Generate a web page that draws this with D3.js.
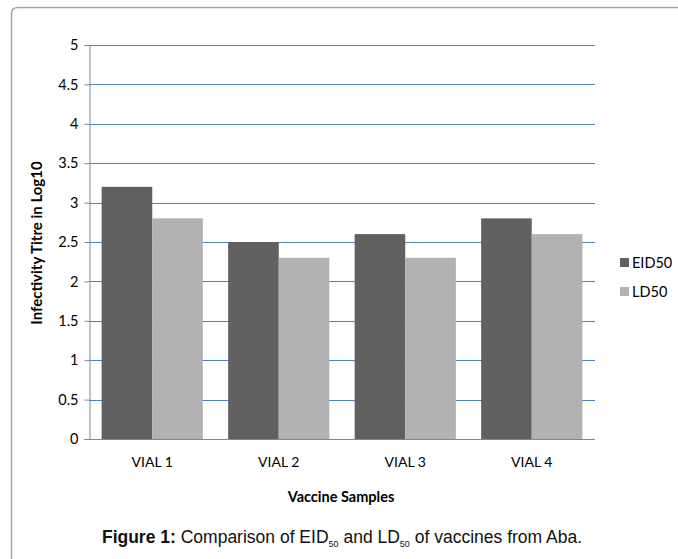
<!DOCTYPE html>
<html>
<head>
<meta charset="utf-8">
<script src="https://cdn.jsdelivr.net/npm/d3@7"></script>
<style>
  html, body { margin: 0; padding: 0; background: #fff; }
  svg { display: block; }
</style>
</head>
<body>
<svg id="chart" width="678" height="559"></svg>
<script>
// Infectivity titres (log10) per vaccine vial
const categories = ["VIAL 1", "VIAL 2", "VIAL 3", "VIAL 4"];
const seriesNames = ["EID50", "LD50"];
const eid50 = [3.2, 2.5, 2.6, 2.8];
const ld50 = [2.8, 2.3, 2.3, 2.6];
const yTicks = [0, 0.5, 1, 1.5, 2, 2.5, 3, 3.5, 4, 4.5, 5];

const colors = { EID50: "#606060", LD50: "#b2b2b2" };
const labelFont = "Lato, 'Open Sans', sans-serif";

const svg = d3.select("#chart");

// Figure frame with a rounded top-left corner
svg.append("path")
  .attr("d", "M11.5,559 L11.5,14 Q11.5,7.5 18,7.5 L678,7.5")
  .attr("fill", "none")
  .attr("stroke", "#a6a6a6")
  .attr("stroke-width", 1.5);

const plot = { left: 89, right: 595, top: 45, bottom: 439 };

const x = d3.scaleBand()
  .domain(categories)
  .range([plot.left, plot.right])
  .paddingInner(0)
  .paddingOuter(0);

const bar = x.bandwidth() / 2.5;
const xs = d3.scaleBand()
  .domain(seriesNames)
  .range([x.bandwidth() / 2 - bar, x.bandwidth() / 2 + bar]);

const y = d3.scaleLinear().domain([0, 5]).range([plot.bottom, plot.top]);

// Horizontal gridlines
svg.append("g")
  .selectAll("line")
  .data(yTicks.filter(d => d > 0))
  .join("line")
  .attr("x1", plot.left)
  .attr("x2", plot.right)
  .attr("y1", d => Math.round(y(d)) + 0.5)
  .attr("y2", d => Math.round(y(d)) + 0.5)
  .attr("stroke", "#4f81bd")
  .attr("stroke-width", 1);

// Bars
const rows = categories.map((c, i) => ({ cat: c, EID50: eid50[i], LD50: ld50[i] }));
const groups = svg.append("g")
  .selectAll("g")
  .data(rows)
  .join("g")
  .attr("transform", d => `translate(${x(d.cat)},0)`);

groups.selectAll("rect")
  .data(d => seriesNames.map(s => ({ s, v: d[s] })))
  .join("rect")
  .attr("x", d => xs(d.s))
  .attr("width", xs.bandwidth())
  .attr("y", d => y(d.v))
  .attr("height", d => y(0) - y(d.v))
  .attr("fill", d => colors[d.s]);

// Y axis
const yAxis = d3.axisLeft(y)
  .tickValues(yTicks)
  .tickSize(5)
  .tickPadding(6)
  .tickFormat(d3.format("~g"));
const yg = svg.append("g")
  .attr("transform", `translate(${plot.left + 0.5},0)`)
  .call(yAxis);
yg.select(".domain").attr("stroke", "#868686");
yg.selectAll(".tick line").attr("stroke", "#868686");
yg.selectAll(".tick text")
  .attr("font-family", labelFont)
  .attr("font-size", 14.5)
  .attr("fill", "#000");

// X axis
const xAxis = d3.axisBottom(x).tickSize(0).tickPadding(18);
const xg = svg.append("g")
  .attr("transform", `translate(0,${plot.bottom + 0.5})`)
  .call(xAxis);
xg.select(".domain")
  .attr("d", `M${plot.left - 5},0H${plot.right}`)
  .attr("stroke", "#868686");
xg.selectAll(".tick text")
  .attr("font-family", labelFont)
  .attr("font-size", 14)
  .attr("fill", "#000");

// Axis titles
svg.append("text")
  .attr("x", 341)
  .attr("y", 502)
  .attr("text-anchor", "middle")
  .attr("font-family", labelFont)
  .attr("font-weight", "bold")
  .attr("font-size", 14.5)
  .text("Vaccine Samples");

svg.append("text")
  .attr("transform", "translate(42,243) rotate(-90)")
  .attr("text-anchor", "middle")
  .attr("font-family", labelFont)
  .attr("font-weight", "bold")
  .attr("font-size", 15)
  .text("Infectivity Titre in Log10");

// Legend
const legend = svg.append("g")
  .selectAll("g")
  .data(seriesNames)
  .join("g")
  .attr("transform", (d, i) => `translate(620,${258 + i * 29})`);
legend.append("rect")
  .attr("width", 9)
  .attr("height", 9)
  .attr("fill", d => colors[d]);
legend.append("text")
  .attr("x", 12)
  .attr("y", 10)
  .attr("font-family", labelFont)
  .attr("font-size", 14.5)
  .text(d => d);

// Caption with subscripts
const cap = svg.append("text")
  .attr("x", 342)
  .attr("y", 543)
  .attr("text-anchor", "middle")
  .attr("font-family", "'Liberation Sans', Arial, sans-serif")
  .attr("font-size", 17.5)
  .attr("fill", "#111");
cap.append("tspan").attr("font-weight", "bold").text("Figure 1:");
cap.append("tspan").text(" Comparison of EID");
cap.append("tspan").attr("font-size", 9).attr("dy", 4).text("50");
cap.append("tspan").attr("dy", -4).text(" and LD");
cap.append("tspan").attr("font-size", 9).attr("dy", 4).text("50");
cap.append("tspan").attr("dy", -4).text(" of vaccines from Aba.");
</script>
</body>
</html>
